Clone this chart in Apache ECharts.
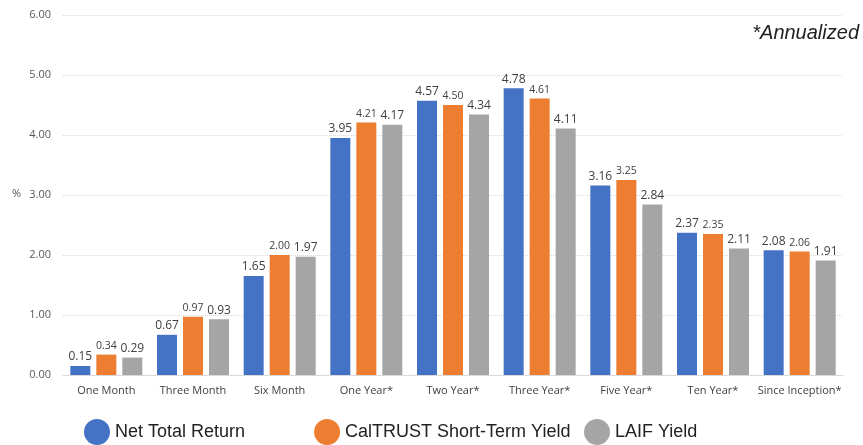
<!DOCTYPE html>
<html>
<head>
    <meta charset="utf-8">
    <title>Returns</title>
    <script src="https://cdn.jsdelivr.net/npm/echarts@6/dist/echarts.min.js"></script>
    <style>
        body { margin: 0; background: #fff; }
    </style>
</head>
<body>
<div id="main" style="width: 863px;height:445px;"></div>
<script type="text/javascript">
    // data
    var periods = ['One Month', 'Three Month', 'Six Month', 'One Year*', 'Two Year*',
        'Three Year*', 'Five Year*', 'Ten Year*', 'Since Inception*'];
    var netTotalReturn = [0.15, 0.67, 1.65, 3.95, 4.57, 4.78, 3.16, 2.37, 2.08];
    var shortTermYield = [0.34, 0.97, 2.00, 4.21, 4.50, 4.61, 3.25, 2.35, 2.06];
    var laifYield = [0.29, 0.93, 1.97, 4.17, 4.34, 4.11, 2.84, 2.11, 1.91];

    var myChart = echarts.init(document.getElementById('main'));

    function bar(name, data, color, labelSize) {
        return {
            name: name,
            type: 'bar',
            data: data,
            barWidth: 20,
            barGap: '30%',
            itemStyle: { color: color },
            label: {
                show: true,
                position: 'top',
                distance: 3,
                color: '#404040',
                fontFamily: 'Open Sans',
                fontSize: labelSize,
                formatter: function (p) { return p.value.toFixed(2); }
            }
        };
    }

    // legend entries are not evenly spaced in the original, so split in two
    function legend(left, gap, names) {
        return {
            bottom: -5,
            left: left,
            icon: 'circle',
            itemWidth: 26,
            itemHeight: 26,
            itemGap: gap,
            textStyle: { fontFamily: 'Liberation Sans', fontSize: 18, color: '#222' },
            data: names
        };
    }

    var option = {
        animation: false,
        grid: { left: 63, right: 20, top: 15, bottom: 70 },
        legend: [
            legend(79, 69, ['Net Total Return', 'CalTRUST Short-Term Yield']),
            legend(579, 10, ['LAIF Yield'])
        ],
        xAxis: {
            type: 'category',
            data: periods,
            axisTick: { show: false },
            axisLine: { lineStyle: { color: '#d9d9d9' } },
            axisLabel: { interval: 0, color: '#404040', fontFamily: 'Open Sans', fontSize: 11, margin: 10 }
        },
        yAxis: {
            type: 'value',
            min: 0,
            max: 6,
            interval: 1,
            axisLabel: {
                color: '#595959', fontFamily: 'Open Sans', fontSize: 11, margin: 12,
                formatter: function (v) { return v.toFixed(2); }
            },
            splitLine: { lineStyle: { color: '#d9d9d9', type: 'dotted' } }
        },
        graphic: [
            { type: 'text', left: 12, top: 188, style: { text: '%', fill: '#595959', font: '11px "Open Sans"' } },
            { type: 'text', right: 4, top: 23, style: { text: '*Annualized', fill: '#222', font: 'italic 20px "Liberation Sans"' } }
        ],
        series: [
            bar('Net Total Return', netTotalReturn, '#4472c4', 12),
            bar('CalTRUST Short-Term Yield', shortTermYield, '#ed7d31', 10.5),
            bar('LAIF Yield', laifYield, '#a5a5a5', 12)
        ]
    };

    myChart.setOption(option);
</script>
</body>
</html>
